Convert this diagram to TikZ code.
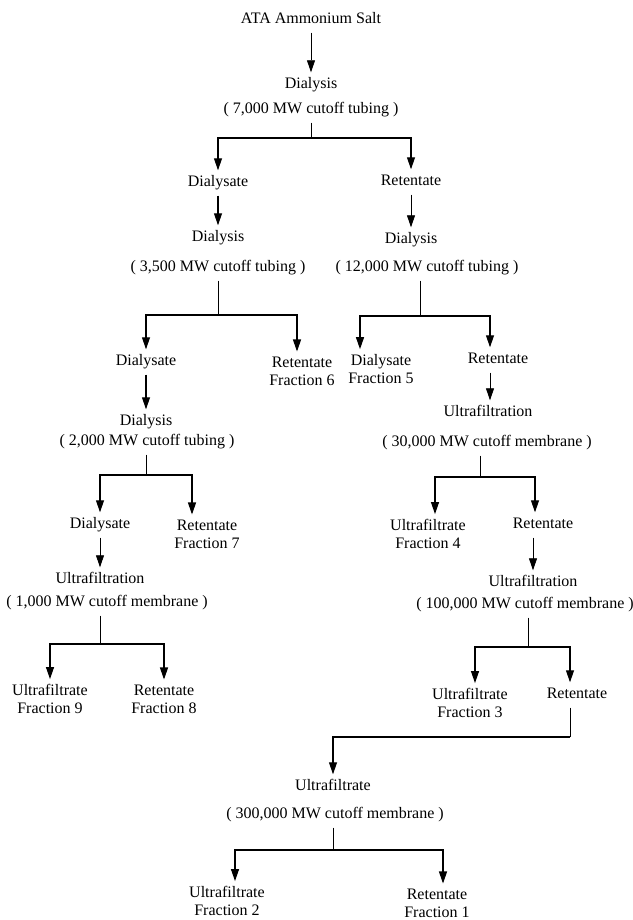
\documentclass[tikz,border=0pt]{standalone}
\usepackage{fontspec}
\setmainfont{Liberation Serif}
\usetikzlibrary{arrows.meta}

\begin{document}
\begin{tikzpicture}[x=1pt,y=-1pt,
	lbl/.style={font=\fontsize{16}{18}\selectfont, inner sep=5pt, text height=11pt, text depth=4pt},
	frac/.style={font=\fontsize{16}{18}\selectfont, inner sep=5pt, align=center},
	arr/.style={line width=1.1pt, -{Triangle[length=12pt,width=8pt]}},
	flow/.style={line width=0.8pt, -{Triangle[length=12pt,width=8pt]}},
	stem/.style={line width=0.7pt}]
	\useasboundingbox (0,0) rectangle (632,920);
	% top
	\node[lbl] (ata) at (311,20) {ATA Ammonium Salt};
	\node[lbl] (dia1) at (311,85) {Dialysis};
	\node[lbl] (cut1) at (311,110) {( 7,000 MW cutoff tubing )};
	\coordinate (j1) at (311,138);
	\node[lbl] (dls1) at (218,183) {Dialysate};
	\node[lbl] (ret1) at (411,182) {Retentate};
	\draw[flow] (ata) -- (dia1);
	\draw[stem] (cut1) -- (j1);
	\draw[arr] (j1) -| (dls1);
	\draw[arr] (j1) -| (ret1);
	% left, 3,500
	\node[lbl] (dia2) at (218,238) {Dialysis};
	\node[lbl] (cut2) at (218,268) {( 3,500 MW cutoff tubing )};
	\coordinate (j2) at (218,315);
	\node[lbl] (dls2) at (146,362) {Dialysate};
	\node[frac] (frac6) at (302,371) {Retentate\\Fraction 6};
	\draw[arr] (dls1) -- (dia2);
	\draw[stem] (cut2) -- (j2);
	\draw[arr] (j2) -| (dls2);
	\draw[arr] (j2) -| ([xshift=-5pt]frac6.north);
	% left, 2,000
	\node[lbl] (dia4) at (146,422) {Dialysis};
	\node[lbl] (cut7) at (147,442) {( 2,000 MW cutoff tubing )};
	\coordinate (j8) at (146,475);
	\node[lbl] (dls3) at (100,525) {Dialysate};
	\node[frac] (frac7) at (207,534) {Retentate\\Fraction 7};
	\draw[arr] (dls2) -- (dia4);
	\draw[stem] (cut7.south -| j8) -- (j8);
	\draw[arr] (j8) -| (dls3);
	\draw[arr] (j8) -| ([xshift=-15pt]frac7.north);
	% left, 1,000
	\node[lbl] (uf4) at (100,580) {Ultrafiltration};
	\node[lbl] (cut8) at (107,603) {( 1,000 MW cutoff membrane )};
	\coordinate (j9) at (100,644);
	\node[frac] (frac9) at (50,699) {Ultrafiltrate\\Fraction 9};
	\node[frac] (frac8) at (164,699) {Retentate\\Fraction 8};
	\draw[flow] (dls3) -- (uf4);
	\draw[stem] (cut8.south -| j9) -- (j9);
	\draw[arr] (j9) -| (frac9);
	\draw[arr] (j9) -| (frac8);
	% right, 12,000
	\node[lbl] (dia3) at (411,240) {Dialysis};
	\node[lbl] (cut3) at (427,268) {( 12,000 MW cutoff tubing )};
	\coordinate (j3) at (420,316);
	\node[frac] (frac5) at (381,369) {Dialysate\\Fraction 5};
	\node[lbl] (ret3) at (498,360) {Retentate};
	\draw[flow] (ret1) -- (dia3);
	\draw[stem] (cut3.south -| j3) -- (j3);
	\draw[arr] (j3) -| ([xshift=-21pt]frac5.north);
	\draw[arr] (j3) -| ([xshift=-8pt]ret3.north);
	% right, 30,000
	\node[lbl] (uf1) at (488,413) {Ultrafiltration};
	\node[lbl] (cut4) at (487,443) {( 30,000 MW cutoff membrane )};
	\coordinate (j4) at (480,477);
	\node[frac] (frac4) at (428,534) {Ultrafiltrate\\Fraction 4};
	\node[lbl] (ret4) at (543,525) {Retentate};
	\draw[flow] ([xshift=-8pt]ret3.south) -- ([xshift=2pt]uf1.north);
	\draw[stem] (cut4.south -| j4) -- (j4);
	\draw[arr] (j4) -| ([xshift=7pt]frac4.north);
	\draw[arr] (j4) -| ([xshift=-8pt]ret4.north);
	% right, 100,000
	\node[lbl] (uf2) at (533,583) {Ultrafiltration};
	\node[lbl] (cut5) at (525,605) {( 100,000 MW cutoff membrane )};
	\coordinate (j5) at (528,647);
	\node[frac] (frac3) at (470,703) {Ultrafiltrate\\Fraction 3};
	\node[lbl] (ret5) at (577,695) {Retentate};
	\draw[flow] ([xshift=-10pt]ret4.south) -- (uf2);
	\draw[stem] (cut5.south -| j5) -- (j5);
	\draw[arr] (j5) -| ([xshift=5pt]frac3.north);
	\draw[arr] (j5) -| ([xshift=-7pt]ret5.north);
	% bottom, 300,000
	\coordinate (j6) at (570,737);
	\node[lbl] (uf3) at (333,787) {Ultrafiltrate};
	\node[lbl] (cut6) at (335,815) {( 300,000 MW cutoff membrane )};
	\coordinate (j7) at (333,850);
	\node[frac] (frac2) at (227,901) {Ultrafiltrate\\Fraction 2};
	\node[frac] (frac1) at (437,903) {Retentate\\Fraction 1};
	\draw[stem] (ret5.south -| j6) -- (j6);
	\draw[arr] (j6) -| (uf3);
	\draw[stem] (cut6.south -| j7) -- (j7);
	\draw[arr] (j7) -| ([xshift=8pt]frac2.north);
	\draw[arr] (j7) -| ([xshift=6pt]frac1.north);
\end{tikzpicture}
\end{document}
